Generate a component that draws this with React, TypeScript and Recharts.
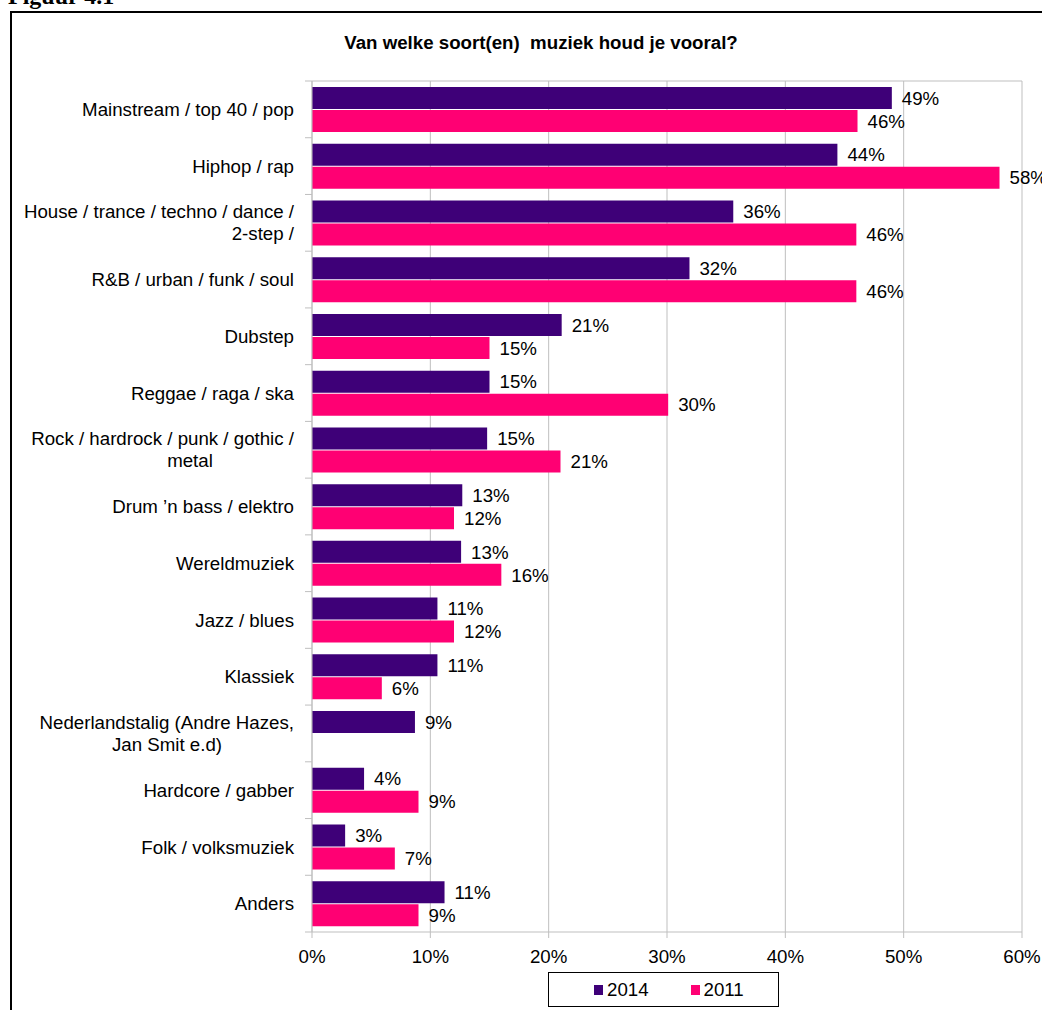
import React from 'react';
import { BarChart, Bar, XAxis, YAxis, CartesianGrid, LabelList, Legend } from 'recharts';

const categories = [
  'Mainstream / top 40 / pop',
  'Hiphop / rap',
  'House / trance / techno / dance / 2-step /',
  'R&B / urban / funk / soul',
  'Dubstep',
  'Reggae / raga / ska',
  'Rock / hardrock / punk / gothic / metal',
  'Drum ’n bass / elektro',
  'Wereldmuziek',
  'Jazz / blues',
  'Klassiek',
  'Nederlandstalig (Andre Hazes, Jan Smit e.d)',
  'Hardcore / gabber',
  'Folk / volksmuziek',
  'Anders',
];

const categoryLines: string[][] = [
  ['Mainstream / top 40 / pop'],
  ['Hiphop / rap'],
  ['House / trance / techno / dance /', '2-step /'],
  ['R&B / urban / funk / soul'],
  ['Dubstep'],
  ['Reggae / raga / ska'],
  ['Rock / hardrock / punk / gothic /', 'metal'],
  ['Drum ’n bass / elektro'],
  ['Wereldmuziek'],
  ['Jazz / blues'],
  ['Klassiek'],
  ['Nederlandstalig (Andre Hazes,', 'Jan Smit e.d)'],
  ['Hardcore / gabber'],
  ['Folk / volksmuziek'],
  ['Anders'],
];

const values2014 = [49.0, 44.4, 35.6, 31.9, 21.1, 15.0, 14.8, 12.7, 12.6, 10.6, 10.6, 8.7, 4.4, 2.8, 11.2];
const values2011: (number | null)[] = [46.1, 58.1, 46.0, 46.0, 15.0, 30.1, 21.0, 12.0, 16.0, 12.0, 5.9, null, 9.0, 7.0, 9.0];

const xTicks = [0, 10, 20, 30, 40, 50, 60];
const seriesNames = ['2014', '2011'];

const PURPLE = '#3E0078';
const PINK = '#FF0073';
const GRID = '#BFBFBF';
const FONT = '"Liberation Sans", Arial, sans-serif';
const FS = 18.7;

const data = categories.map((name, i) => ({
  name,
  v2014: values2014[i],
  v2011: values2011[i],
}));

// second-line alignment of wrapped category labels (style only)
const secondLineStyle: Record<number, { anchor: 'end' | 'middle'; dx: number }> = {
  2: { anchor: 'end', dx: -18 },
  6: { anchor: 'middle', dx: -122 },
  11: { anchor: 'middle', dx: -145 },
};

const CategoryTick = (props: any) => {
  const { x, y, payload, index } = props;
  const idx = typeof payload?.index === 'number' ? payload.index : index;
  const half = payload && typeof payload.offset === 'number' && payload.offset > 0 ? payload.offset : 28.37;
  const lines = categoryLines[idx] || [String(payload?.value ?? '')];
  const isLast = idx === categories.length - 1;
  return (
    <g>
      <line x1={x - 7} x2={x} y1={y - half} y2={y - half} stroke={GRID} strokeWidth={1} />
      {isLast && <line x1={x - 7} x2={x} y1={y + half} y2={y + half} stroke={GRID} strokeWidth={1} />}
      {lines.length === 1 ? (
        <text x={x - 18} y={y} dy="0.355em" textAnchor="end" fontSize={FS} fill="#000" fontFamily={FONT}>
          {lines[0]}
        </text>
      ) : (
        <g>
          <text x={x - 18} y={y - 11} dy="0.355em" textAnchor="end" fontSize={FS} fill="#000" fontFamily={FONT}>
            {lines[0]}
          </text>
          <text
            x={x + (secondLineStyle[idx]?.dx ?? -18)}
            y={y + 11}
            dy="0.355em"
            textAnchor={secondLineStyle[idx]?.anchor ?? 'end'}
            fontSize={FS}
            fill="#000"
            fontFamily={FONT}
          >
            {lines[1]}
          </text>
        </g>
      )}
    </g>
  );
};

const LegendContent = () => (
  <div
    style={{
      width: 231,
      height: 35,
      boxSizing: 'border-box',
      border: '1.5px solid #000',
      background: '#fff',
      display: 'flex',
      alignItems: 'center',
      paddingLeft: 45,
      fontFamily: FONT,
      fontSize: FS,
      color: '#000',
    }}
  >
    <span style={{ display: 'inline-block', width: 9, height: 10, background: PURPLE, marginRight: 4 }} />
    <span style={{ marginRight: 42 }}>{seriesNames[0]}</span>
    <span style={{ display: 'inline-block', width: 9, height: 10, background: PINK, marginRight: 4 }} />
    <span>{seriesNames[1]}</span>
  </div>
);

const fmt = (v: any) => (v === null || v === undefined || v === '' ? '' : `${Math.round(Number(v))}%`);

export default function App() {
  return (
    <div
      style={{
        position: 'absolute',
        left: 0,
        top: 0,
        width: 1042,
        height: 1010,
        overflow: 'hidden',
        background: '#fff',
      }}
    >
      <div
        style={{
          position: 'absolute',
          left: 8,
          top: -19,
          fontFamily: '"Liberation Serif", "Times New Roman", serif',
          fontWeight: 'bold',
          fontSize: 24,
          lineHeight: '30px',
          color: '#000',
          whiteSpace: 'nowrap',
        }}
      >
        Figuur 4.1
      </div>
      <div
        style={{
          position: 'absolute',
          left: 10,
          top: 11,
          width: 1200,
          height: 1200,
          border: '2px solid #000',
          boxSizing: 'border-box',
        }}
      />
      <div
        style={{
          position: 'absolute',
          left: 0,
          width: 1082,
          top: 32,
          textAlign: 'center',
          fontFamily: FONT,
          fontWeight: 'bold',
          fontSize: FS,
          lineHeight: '22px',
          color: '#000',
          whiteSpace: 'pre',
        }}
      >
        {'Van welke soort(en)  muziek houd je vooral?'}
      </div>
      <div style={{ position: 'absolute', left: 0, top: 0 }}>
        <BarChart
          width={1042}
          height={1010}
          data={data}
          layout="vertical"
          margin={{ top: 80, right: 20, bottom: 38, left: 12 }}
          barCategoryGap={6}
          barGap={1}
        >
          <CartesianGrid xAxisId="bottom" vertical={true} horizontal={false} stroke={GRID} />
          <XAxis
            xAxisId="bottom"
            type="number"
            domain={[0, 60]}
            ticks={xTicks}
            tickFormatter={(v: number) => `${v}%`}
            axisLine={{ stroke: GRID }}
            tickLine={{ stroke: GRID }}
            tickSize={6}
            tickMargin={12}
            height={40}
            tick={{ fill: '#000', fontSize: FS, fontFamily: FONT }}
            allowDataOverflow
          />
          <XAxis
            xAxisId="top"
            orientation="top"
            type="number"
            domain={[0, 60]}
            height={1}
            tick={false}
            tickLine={false}
            axisLine={{ stroke: GRID }}
            allowDataOverflow
          />
          <YAxis
            type="category"
            dataKey="name"
            width={300}
            interval={0}
            axisLine={{ stroke: GRID }}
            tickLine={false}
            tickSize={0}
            tickMargin={0}
            tick={<CategoryTick />}
          />
          <Legend
            verticalAlign="middle"
            align="center"
            layout="horizontal"
            content={<LegendContent />}
            wrapperStyle={{ left: 548, top: 972, width: 231, height: 35 }}
          />
          <Bar xAxisId="bottom" dataKey="v2014" name={seriesNames[0]} fill={PURPLE} isAnimationActive={false}>
            <LabelList dataKey="v2014" position="right" offset={10} formatter={fmt} fill="#000" fontSize={FS} fontFamily={FONT} />
          </Bar>
          <Bar xAxisId="bottom" dataKey="v2011" name={seriesNames[1]} fill={PINK} isAnimationActive={false}>
            <LabelList dataKey="v2011" position="right" offset={10} formatter={fmt} fill="#000" fontSize={FS} fontFamily={FONT} />
          </Bar>
        </BarChart>
      </div>
    </div>
  );
}
